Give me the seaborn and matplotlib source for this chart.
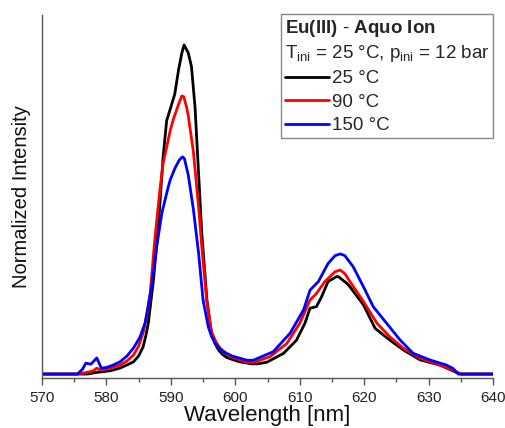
import numpy as np
import pandas as pd
import matplotlib
matplotlib.use("Agg")
import matplotlib.pyplot as plt
from matplotlib.ticker import MultipleLocator
import seaborn as sns

# ---- data ----
wl_25 = [570, 577, 578.5, 580.6, 582.1, 583.1, 584.2, 585.0, 585.7, 586.1, 586.5,
         586.9, 587.3, 588.05, 588.8, 589.35, 589.9, 590.6, 591.2, 591.7, 592.05,
         592.7, 593.2, 593.75, 594.3, 594.8, 595.6, 596.3, 596.8, 597.4, 598.0,
         598.7, 600.5, 602.5, 603.5, 604.9, 607.5, 609.5, 610.8, 611.6, 612.6,
         613.4, 614.4, 615.7, 616.0, 617.3, 617.8, 619.9, 621.7, 624.0, 626.1,
         628.7, 631.8, 634.3, 635, 640]
int_25 = [0, 0, 0.005, 0.010, 0.018, 0.027, 0.037, 0.055, 0.083, 0.115, 0.155,
          0.22, 0.286, 0.448, 0.66, 0.77, 0.805, 0.85, 0.925, 0.975, 1.0,
          0.976, 0.934, 0.812, 0.611, 0.428, 0.225, 0.125, 0.095, 0.073, 0.060,
          0.050, 0.038, 0.031, 0.031, 0.036, 0.063, 0.103, 0.154, 0.200, 0.205,
          0.235, 0.281, 0.296, 0.296, 0.276, 0.265, 0.21, 0.139, 0.103, 0.073,
          0.043, 0.027, 0.005, 0, 0]

wl_90 = [570, 575.5, 577.0, 578.0, 578.5, 579.0, 580.0, 582.1, 583.2, 584.2, 585.0,
         585.7, 586.3, 586.8, 587.5, 588.3, 588.8, 589.35, 589.9, 590.4, 591.2,
         591.7, 592.0, 592.45, 592.7, 593.5, 594.3, 594.8, 595.6, 596.3, 597.0,
         597.6, 599.2, 601.8, 602.8, 605.4, 608.0, 610.0, 611.6, 612.6, 613.9,
         615.5, 616.3, 617.0, 617.8, 619.9, 622.0, 624.0, 626.1, 628.7, 631.8,
         633.8, 635, 640]
int_90 = [0, 0, 0.005, 0.010, 0.018, 0.012, 0.015, 0.027, 0.040, 0.058, 0.085,
          0.125, 0.180, 0.246, 0.407, 0.56, 0.64, 0.69, 0.74, 0.775, 0.82,
          0.845, 0.843, 0.81, 0.785, 0.675, 0.509, 0.387, 0.216, 0.129, 0.098,
          0.079, 0.053, 0.036, 0.035, 0.053, 0.093, 0.154, 0.225, 0.245, 0.281,
          0.311, 0.316, 0.305, 0.281, 0.22, 0.154, 0.113, 0.078, 0.048, 0.027,
          0.012, 0, 0]

wl_150 = [570, 575.5, 576.3, 576.8, 577.6, 578.5, 579.2, 580.0, 581.0, 582.1, 583.2,
          584.2, 585.2, 586.0, 587.0, 587.8, 588.6, 589.6, 589.9, 590.65, 591.3,
          591.8, 592.1, 592.7, 593.5, 594.3, 595.0, 595.8, 596.3, 596.85, 598.1,
          599.5, 601.8, 602.8, 605.9, 608.5, 610.6, 611.6, 612.9, 614.4, 615.5,
          616.3, 617.0, 618.3, 619.9, 621.4, 623.5, 625.6, 627.6, 630.2, 632.8,
          633.8, 634.6, 640]
int_150 = [0, 0, 0.015, 0.033, 0.030, 0.049, 0.018, 0.020, 0.027, 0.037, 0.055,
           0.079, 0.112, 0.155, 0.265, 0.387, 0.489, 0.569, 0.59, 0.626, 0.65,
           0.66, 0.655, 0.605, 0.50, 0.368, 0.225, 0.144, 0.115, 0.094, 0.068,
           0.055, 0.042, 0.042, 0.068, 0.124, 0.195, 0.255, 0.281, 0.336, 0.360,
           0.365, 0.36, 0.326, 0.265, 0.205, 0.154, 0.103, 0.063, 0.043, 0.027,
           0.017, 0, 0]

series_labels = ["25 °C", "90 °C", "150 °C"]
series_colors = ["#000000", "#ff0000", "#0000ff"]
x_ticks = [570, 580, 590, 600, 610, 620, 630, 640]

frames = []
for lab, w, v in zip(series_labels, [wl_25, wl_90, wl_150], [int_25, int_90, int_150]):
    frames.append(pd.DataFrame({"wl": w, "val": v, "series": lab}))
df = pd.concat(frames, ignore_index=True)

sns.set_theme(style="ticks")
plt.rcParams["font.family"] = ["Liberation Sans", "DejaVu Sans"]
plt.rcParams["mathtext.fontset"] = "custom"
plt.rcParams["mathtext.rm"] = "Liberation Sans"
plt.rcParams["mathtext.it"] = "Liberation Sans:italic"
plt.rcParams["mathtext.bf"] = "Liberation Sans:bold"

fig = plt.figure(figsize=(5.05, 4.28), dpi=100)
ax = fig.add_axes([42 / 505, 50 / 428, 451 / 505, 363 / 428])

sns.lineplot(data=df, x="wl", y="val", hue="series", hue_order=series_labels,
             palette=dict(zip(series_labels, series_colors)), estimator=None,
             sort=False, linewidth=2.0, ax=ax, legend=False)

ax.set_xlim(570, 640)
ax.set_ylim(-0.012, 1.091)
ax.set_xticks(x_ticks)
ax.set_xticklabels([str(t) for t in x_ticks])
ax.xaxis.set_minor_locator(MultipleLocator(5))
ax.set_yticks([])

for s in ["top", "right"]:
    ax.spines[s].set_visible(False)
for s in ["left", "bottom"]:
    ax.spines[s].set_color("#555555")
    ax.spines[s].set_linewidth(1.0)

ax.tick_params(axis="x", which="major", direction="out", length=5, width=1,
               color="#555555", labelsize=11, pad=4, labelcolor="#222222")
ax.tick_params(axis="x", which="minor", direction="out", length=3, width=1,
               color="#555555")

ax.set_xlabel("Wavelength [nm]", fontsize=16, labelpad=0.5, color="#111111")
ax.set_ylabel("Normalized Intensity", fontsize=14.5, labelpad=8, color="#111111")

title = (r"$\mathbf{Eu(III)}$ - $\mathbf{Aquo\ Ion}$" + "\n"
         + r"T$_{\mathrm{ini}}$ = 25 °C, p$_{\mathrm{ini}}$ = 12 bar")
leg = ax.legend(handles=ax.lines[:3], labels=series_labels, title=title,
                loc="upper right", bbox_to_anchor=(1.0, 1.003), borderaxespad=0,
                fontsize=13.5, title_fontsize=13.5, alignment="left",
                frameon=True, fancybox=False, framealpha=1, edgecolor="#888888",
                handlelength=2.35, handletextpad=0.15, labelspacing=0.33,
                borderpad=0.2)
leg.get_frame().set_linewidth(1.0)
leg.get_title().set_linespacing(1.3)

fig.savefig("out.png", dpi=100)
